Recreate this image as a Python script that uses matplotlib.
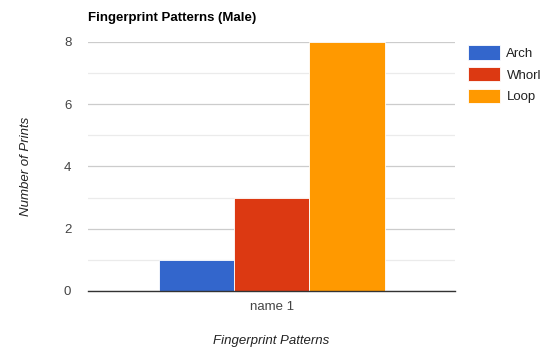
import numpy as np
import matplotlib
matplotlib.use("Agg")
import matplotlib.pyplot as plt

categories = ["name 1"]
series = ["Arch", "Whorl", "Loop"]
values = {"Arch": [1], "Whorl": [3], "Loop": [8]}
colors = ["#3366cc", "#dc3912", "#ff9900"]

plt.rcParams["font.family"] = ["Liberation Sans", "DejaVu Sans"]

fig = plt.figure(figsize=(5.4, 3.5), dpi=100)
ax = fig.add_axes([0.163, 0.1686, 0.68, 0.7114])

x = np.arange(len(categories))
w = 0.205
handles = []
for i, (name, c) in enumerate(zip(series, colors)):
    b = ax.bar(x + (i - 1) * w, values[name], width=w, color=c,
               edgecolor="white", linewidth=0.6, label=name, zorder=3)
    handles.append(b)

ax.set_xlim(-0.5, 0.5)
ax.set_ylim(0, 8)
ax.set_yticks([0, 2, 4, 6, 8])
ax.set_yticks([1, 3, 5, 7], minor=True)
ax.set_xticks(x)
ax.set_xticklabels(categories)

ax.grid(axis="y", which="major", color="#cccccc", linewidth=0.9, zorder=0)
ax.grid(axis="y", which="minor", color="#ebebeb", linewidth=0.9, zorder=0)
for s in ["top", "right", "left"]:
    ax.spines[s].set_visible(False)
ax.spines["bottom"].set_color("#333333")
ax.spines["bottom"].set_linewidth(1.0)
ax.spines["bottom"].set_zorder(4)
ax.tick_params(axis="both", which="both", length=0, labelsize=9.5, colors="#444444")
ax.tick_params(axis="y", pad=12)
ax.tick_params(axis="x", pad=7)

ax.set_title("Fingerprint Patterns (Male)", loc="left", fontsize=9.5,
             fontweight="bold", color="#000000", pad=15)
ax.set_ylabel("Number of Prints", fontsize=9.5, style="italic", color="#222222", labelpad=23)
ax.set_xlabel("Fingerprint Patterns", fontsize=9.5, style="italic", color="#222222", labelpad=16)

leg = fig.legend(handles=handles, loc="upper left", bbox_to_anchor=(0.845, 0.905),
                 frameon=False, fontsize=9.5, handlelength=2.4, handleheight=1.3,
                 handletextpad=0.5, labelspacing=0.55)
for t in leg.get_texts():
    t.set_color("#222222")

fig.savefig("out.png", dpi=100)
